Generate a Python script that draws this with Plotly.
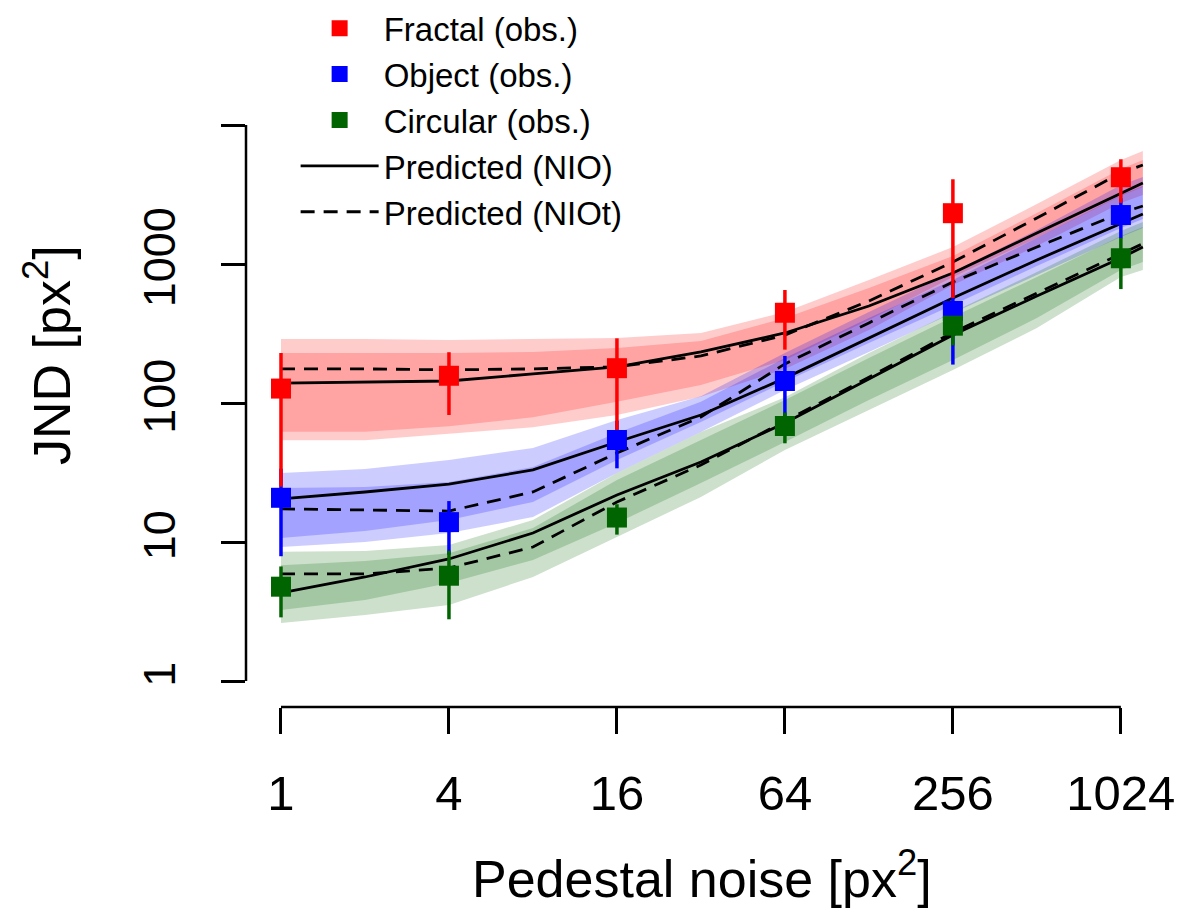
import plotly.graph_objects as go

# ---------------- data ----------------
pedestal = [1, 4, 16, 64, 256, 1024]
x_ticks = [1, 4, 16, 64, 256, 1024]
x_ticktext = ["1", "4", "16", "64", "256", "1024"]
y_ticks = [1, 10, 100, 1000, 10000]
y_ticktext = ["1", "10", "100", "1000", ""]

# observed JND (mean) and error-bar half widths
fractal_obs = [127, 157, 178, 446, 2320, 4210]
fractal_err = [102, 75, 114, 204, 1750, 1460]
object_obs = [20.8, 13.9, 54.2, 144, 459, 2250]
object_err = [12.9, 5.8, 20.3, 74, 270, 720]
circular_obs = [4.77, 5.72, 15.0, 68.3, 360, 1100]
circular_err = [1.9, 2.94, 3.7, 17, 100, 440]

# prediction grid
pred_x = [1, 2, 4, 8, 16, 32, 64, 128, 256, 512, 1024, 1228]

fractal_nio = [139, 142, 144, 162, 182, 233, 319, 499, 861, 1671, 3243, 3828]
fractal_niot = [176, 176, 173, 176, 182, 218, 308, 542, 1033, 2143, 4516, 5155]
object_nio = [20.4, 22.9, 26.1, 33.0, 52.4, 82.0, 151, 294, 570, 1069, 1972, 2290]
object_niot = [17.3, 17.0, 16.7, 22.9, 43.7, 79.3, 191, 377, 742, 1325, 2328, 2614]
circular_nio = [4.30, 5.60, 7.55, 11.6, 21.8, 37.6, 71.8, 149, 308, 589, 1104, 1325]
circular_niot = [5.89, 5.89, 6.50, 9.20, 19.4, 35.8, 74.0, 153, 322, 615, 1170, 1400]

# prediction bands: band A (upper/lower) and band B (upper/lower)
fractal_a_hi = [289, 289, 284, 289, 294, 319, 452, 767, 1325, 2702, 5601, 6502]
fractal_a_lo = [62, 62, 68, 79, 102, 135, 204, 396, 806, 1538, 3085, 3581]
fractal_b_hi = [229, 229, 229, 233, 249, 279, 409, 672, 1142, 2328, 4826, 5601]
fractal_b_lo = [54, 54, 60, 67, 82, 111, 176, 335, 706, 1347, 2747, 3136]

object_a_hi = [31.4, 33.5, 38.9, 47.5, 75.5, 112, 229, 452, 876, 1756, 3701, 4225]
object_a_lo = [10.7, 12.0, 14.4, 19.4, 38.9, 73.0, 142, 270, 507, 967, 1816, 2107]
object_b_hi = [24.5, 24.9, 27.0, 34.6, 60.8, 102, 211, 409, 767, 1538, 3136, 3640]
object_b_lo = [9.2, 10.0, 11.6, 15.1, 31.4, 61.9, 124, 233, 444, 834, 1564, 1816]

circular_a_hi = [8.5, 8.6, 9.5, 14.4, 31.4, 61.9, 110, 229, 452, 876, 1728, 2005]
circular_a_lo = [3.24, 3.83, 5.07, 7.42, 13.7, 26.6, 52.4, 105, 204, 409, 906, 1034]
circular_b_hi = [6.8, 7.3, 8.3, 12.6, 27.9, 54.2, 105, 211, 416, 806, 1590, 1846]
circular_b_lo = [2.61, 2.98, 3.52, 5.60, 10.9, 21.1, 45.9, 89.0, 173, 346, 806, 906]

RED = "rgb(255,0,0)"
BLUE = "rgb(0,0,255)"
GREEN = "rgb(0,100,0)"
RED_F = "rgba(255,0,0,0.2)"
BLUE_F = "rgba(0,0,255,0.2)"
GREEN_F = "rgba(0,100,0,0.2)"
FONT = "Arial, Liberation Sans, sans-serif"

fig = go.Figure()

def band(hi, lo, color):
    fig.add_trace(go.Scatter(
        x=pred_x + pred_x[::-1], y=hi + lo[::-1],
        fill="toself", fillcolor=color, mode="lines",
        line=dict(width=0, color="rgba(0,0,0,0)"),
        hoverinfo="skip", showlegend=False))

band(fractal_a_hi, fractal_a_lo, RED_F)
band(fractal_b_hi, fractal_b_lo, RED_F)
band(object_a_hi, object_a_lo, BLUE_F)
band(object_b_hi, object_b_lo, BLUE_F)
band(circular_a_hi, circular_a_lo, GREEN_F)
band(circular_b_hi, circular_b_lo, GREEN_F)

def pred(y, dash, name, show, rank):
    fig.add_trace(go.Scatter(
        x=pred_x, y=y, mode="lines", name=name,
        line=dict(color="black", width=2.8, dash=dash),
        showlegend=show, legendgroup=name, legendrank=rank))

pred(fractal_nio, "solid", "Predicted (NIO)", True, 4)
pred(object_nio, "solid", "Predicted (NIO)", False, 4)
pred(circular_nio, "solid", "Predicted (NIO)", False, 4)
pred(fractal_niot, "14px,9px", "Predicted (NIOt)", True, 5)
pred(object_niot, "14px,9px", "Predicted (NIOt)", False, 5)
pred(circular_niot, "14px,9px", "Predicted (NIOt)", False, 5)

def bars(y, err, color):
    fig.add_trace(go.Scatter(
        x=pedestal, y=y, mode="markers",
        marker=dict(size=1, color="rgba(0,0,0,0)"),
        error_y=dict(type="data", array=err, visible=True,
                     color=color, thickness=3.5, width=0),
        showlegend=False, hoverinfo="skip"))

bars(object_obs, object_err, BLUE)
bars(circular_obs, circular_err, GREEN)
bars(fractal_obs, fractal_err, RED)

def squares(y, color, name, rank):
    fig.add_trace(go.Scatter(
        x=pedestal, y=y, mode="markers", name=name,
        marker=dict(symbol="square", size=20, color=color,
                    line=dict(width=0)),
        legendrank=rank))

squares(fractal_obs, RED, "Fractal (obs.)", 1)
squares(object_obs, BLUE, "Object (obs.)", 2)
squares(circular_obs, GREEN, "Circular (obs.)", 3)

# R-style axis lines spanning first..last tick
fig.add_shape(type="line", xref="x", yref="paper",
              x0=x_ticks[0], x1=x_ticks[-1], y0=0, y1=0,
              line=dict(color="black", width=2.5))
fig.add_shape(type="line", xref="paper", yref="y",
              x0=0, x1=0, y0=y_ticks[0], y1=y_ticks[-1],
              line=dict(color="black", width=2.5))

fig.update_xaxes(type="log", range=[-0.1254, 3.1685], automargin=False,
                 showgrid=False, zeroline=False, showline=False,
                 tickmode="array", tickvals=x_ticks, ticktext=x_ticktext,
                 ticks="outside", ticklen=26, tickwidth=2.5, tickcolor="black",
                 ticklabelstandoff=17,
                 tickfont=dict(family=FONT, size=49, color="black"))
fig.update_yaxes(type="log", range=[-0.18705, 4.0504], automargin=False,
                 showgrid=False, zeroline=False, showline=False,
                 tickmode="array", tickvals=y_ticks, ticktext=y_ticktext,
                 ticks="outside", ticklen=24, tickwidth=2.5, tickcolor="black",
                 tickangle=-90, ticklabelstandoff=28,
                 tickfont=dict(family=FONT, size=45, color="black"))

fig.add_annotation(text="Pedestal noise [px<sup>2</sup>]", xref="paper", yref="paper",
                   x=0.496, y=-0.3447, xanchor="center", yanchor="bottom",
                   showarrow=False, font=dict(family=FONT, size=52, color="black"))
fig.add_annotation(text="JND [px<sup>2</sup>]", xref="paper", yref="paper",
                   x=-0.2155, y=0.5976, xanchor="center", yanchor="middle",
                   textangle=-90, showarrow=False,
                   font=dict(family=FONT, size=52, color="black"))

fig.update_layout(
    width=1185, height=911,
    margin=dict(l=246, r=20, t=118, b=204, autoexpand=False),
    paper_bgcolor="white", plot_bgcolor="white",
    legend=dict(x=0.054, y=1.2, xanchor="left", yanchor="top",
                bgcolor="rgba(0,0,0,0)", traceorder="normal",
                font=dict(family=FONT, size=33, color="black"),
                itemwidth=78, tracegroupgap=0),
    showlegend=True,
)

fig.write_html("out.html", config={"displayModeBar": False},
               post_script="document.body.style.margin='0px';")
